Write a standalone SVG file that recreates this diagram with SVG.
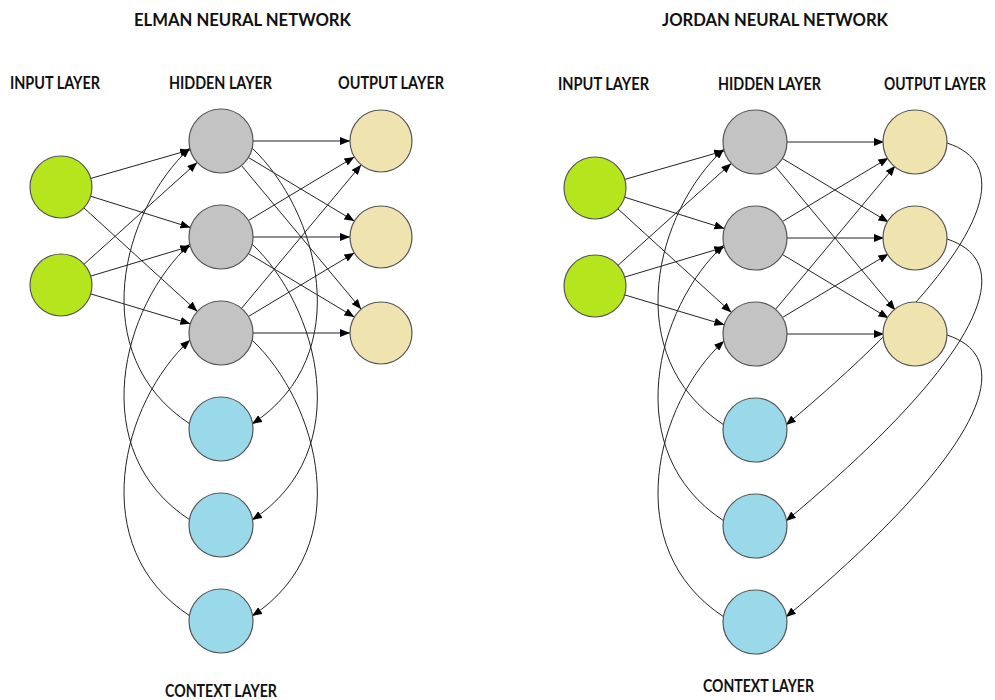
<svg xmlns="http://www.w3.org/2000/svg" width="995" height="700" viewBox="0 0 995 700">
<style>
.lbl{font-family:Lato,"Liberation Sans",sans-serif;font-weight:bold;font-size:16.5px;fill:#111}
.e{fill:none;stroke:#222;stroke-width:1}
.a{marker-end:url(#arr)}
.n circle{stroke:#555;stroke-width:1.2}
.in circle{fill:#b5e61d}
.hid circle{fill:#c3c3c3}
.out circle{fill:#efe4b0}
.ctx circle{fill:#99d9ea}
</style>
<defs>
<marker id="arr" viewBox="0 0 10 8" refX="10" refY="4" markerWidth="10" markerHeight="8" markerUnits="userSpaceOnUse" orient="auto">
<path d="M0,0 L10,4 L0,8 z" fill="#000"/>
</marker>
</defs>
<rect width="995" height="700" fill="#fff"/>

<g id="labels">
<text class="lbl" x="134" y="26" textLength="217" lengthAdjust="spacingAndGlyphs">ELMAN NEURAL NETWORK</text>
<text class="lbl" x="10" y="89" textLength="90" lengthAdjust="spacingAndGlyphs">INPUT LAYER</text>
<text class="lbl" x="169" y="89" textLength="103" lengthAdjust="spacingAndGlyphs">HIDDEN LAYER</text>
<text class="lbl" x="338" y="89" textLength="106" lengthAdjust="spacingAndGlyphs">OUTPUT LAYER</text>
<text class="lbl" x="165" y="697" textLength="112" lengthAdjust="spacingAndGlyphs">CONTEXT LAYER</text>
<text class="lbl" x="662" y="26" textLength="226" lengthAdjust="spacingAndGlyphs">JORDAN NEURAL NETWORK</text>
<text class="lbl" x="558" y="90" textLength="91" lengthAdjust="spacingAndGlyphs">INPUT LAYER</text>
<text class="lbl" x="718" y="90" textLength="103" lengthAdjust="spacingAndGlyphs">HIDDEN LAYER</text>
<text class="lbl" x="986" y="90" text-anchor="end" textLength="102" lengthAdjust="spacingAndGlyphs">OUTPUT LAYER</text>
<text class="lbl" x="703" y="692" textLength="111" lengthAdjust="spacingAndGlyphs">CONTEXT LAYER</text>
</g>

<g id="connectors">
<g id="elman-edges">
<line class="e a" x1="90.8" y1="178.4" x2="190.2" y2="149.8"/>
<line class="e a" x1="90.6" y1="196.2" x2="190.4" y2="227.5"/>
<line class="e a" x1="83.9" y1="207.9" x2="197.4" y2="311.4"/>
<line class="e a" x1="84.0" y1="264.3" x2="197.2" y2="162.4"/>
<line class="e a" x1="90.7" y1="276.1" x2="190.3" y2="246.2"/>
<line class="e a" x1="90.7" y1="293.9" x2="190.3" y2="323.8"/>
<line class="e a" x1="253" y1="141" x2="350" y2="141"/>
<line class="e a" x1="248.4" y1="157.5" x2="354.4" y2="221.1"/>
<line class="e a" x1="241.5" y1="165.6" x2="361.2" y2="309.2"/>
<line class="e a" x1="248.4" y1="220.5" x2="354.4" y2="156.9"/>
<line class="e a" x1="253" y1="237" x2="350" y2="237"/>
<line class="e a" x1="248.4" y1="253.5" x2="354.4" y2="317.1"/>
<line class="e a" x1="241.5" y1="308.4" x2="361.2" y2="164.8"/>
<line class="e a" x1="248.4" y1="316.5" x2="354.4" y2="252.9"/>
<line class="e a" x1="253" y1="333" x2="350" y2="333"/>
<path class="e a" d="M252,148 C318,210 358,355 252,424"/>
<path class="e a" d="M252,244 C318,306 358,451 252,520"/>
<path class="e a" d="M252,340 C318,402 358,547 252,616"/>
<path class="e a" d="M190,424 C84,355 122,210 190,148"/>
<path class="e a" d="M190,520 C84,451 122,306 190,244"/>
<path class="e a" d="M190,616 C84,547 122,402 190,340"/>
</g>
<g id="jordan-edges" transform="translate(534,1)">
<line class="e a" x1="90.8" y1="178.4" x2="190.2" y2="149.8"/>
<line class="e a" x1="90.6" y1="196.2" x2="190.4" y2="227.5"/>
<line class="e a" x1="83.9" y1="207.9" x2="197.4" y2="311.4"/>
<line class="e a" x1="84.0" y1="264.3" x2="197.2" y2="162.4"/>
<line class="e a" x1="90.7" y1="276.1" x2="190.3" y2="246.2"/>
<line class="e a" x1="90.7" y1="293.9" x2="190.3" y2="323.8"/>
<line class="e a" x1="253" y1="141" x2="350" y2="141"/>
<line class="e a" x1="248.4" y1="157.5" x2="354.4" y2="221.1"/>
<line class="e a" x1="241.5" y1="165.6" x2="361.2" y2="309.2"/>
<line class="e a" x1="248.4" y1="220.5" x2="354.4" y2="156.9"/>
<line class="e a" x1="253" y1="237" x2="350" y2="237"/>
<line class="e a" x1="248.4" y1="253.5" x2="354.4" y2="317.1"/>
<line class="e a" x1="241.5" y1="308.4" x2="361.2" y2="164.8"/>
<line class="e a" x1="248.4" y1="316.5" x2="354.4" y2="252.9"/>
<line class="e a" x1="253" y1="333" x2="350" y2="333"/>
<path class="e a" d="M413,142 C496,169 426,279 252,424"/>
<path class="e a" d="M413,238 C496,265 426,375 252,520"/>
<path class="e a" d="M413,334 C496,361 426,471 252,616"/>
<path class="e a" d="M190,424 C84,355 122,210 190,148"/>
<path class="e a" d="M190,520 C84,451 122,306 190,244"/>
<path class="e a" d="M190,616 C84,547 122,402 190,340"/>
</g>
</g>

<g id="elman-nodes">
<g id="e-in1" class="n in"><circle cx="61" cy="187" r="31"/></g>
<g id="e-in2" class="n in"><circle cx="61" cy="285" r="31"/></g>
<g id="e-h1" class="n hid"><circle cx="221" cy="141" r="32"/></g>
<g id="e-h2" class="n hid"><circle cx="221" cy="237" r="32"/></g>
<g id="e-h3" class="n hid"><circle cx="221" cy="333" r="32"/></g>
<g id="e-o1" class="n out"><circle cx="381" cy="141" r="31"/></g>
<g id="e-o2" class="n out"><circle cx="381" cy="237" r="31"/></g>
<g id="e-o3" class="n out"><circle cx="381" cy="333" r="31"/></g>
<g id="e-c1" class="n ctx"><circle cx="221" cy="429" r="32"/></g>
<g id="e-c2" class="n ctx"><circle cx="221" cy="525" r="32"/></g>
<g id="e-c3" class="n ctx"><circle cx="221" cy="621" r="32"/></g>
</g>
<g id="jordan-nodes" transform="translate(534,1)">
<g id="j-in1" class="n in"><circle cx="61" cy="187" r="31"/></g>
<g id="j-in2" class="n in"><circle cx="61" cy="285" r="31"/></g>
<g id="j-h1" class="n hid"><circle cx="221" cy="141" r="32"/></g>
<g id="j-h2" class="n hid"><circle cx="221" cy="237" r="32"/></g>
<g id="j-h3" class="n hid"><circle cx="221" cy="333" r="32"/></g>
<g id="j-o1" class="n out"><circle cx="381" cy="141" r="32"/></g>
<g id="j-o2" class="n out"><circle cx="381" cy="237" r="32"/></g>
<g id="j-o3" class="n out"><circle cx="381" cy="333" r="32"/></g>
<g id="j-c1" class="n ctx"><circle cx="221" cy="429" r="32"/></g>
<g id="j-c2" class="n ctx"><circle cx="221" cy="525" r="32"/></g>
<g id="j-c3" class="n ctx"><circle cx="221" cy="621" r="32"/></g>
</g>
</svg>
